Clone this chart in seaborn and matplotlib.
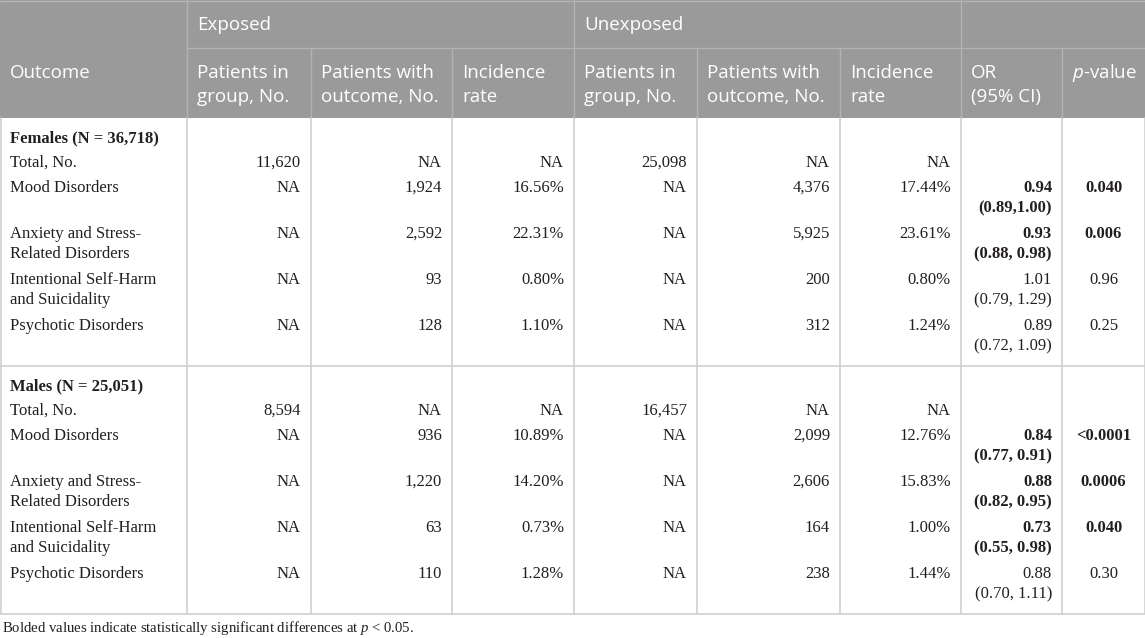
import numpy as np
import pandas as pd
import seaborn as sns
import matplotlib.pyplot as plt
from matplotlib.patches import Rectangle

# table data
groups = ['Females (N = 36,718)', 'Males (N = 25,051)']
outcomes = ['Total, No.', 'Mood Disorders', 'Anxiety and Stress-\nRelated Disorders',
            'Intentional Self-Harm\nand Suicidality', 'Psychotic Disorders']

exp_group = [['11,620', 'NA', 'NA', 'NA', 'NA'], ['8,594', 'NA', 'NA', 'NA', 'NA']]
exp_outcome = [['NA', '1,924', '2,592', '93', '128'], ['NA', '936', '1,220', '63', '110']]
exp_rate = [['NA', '16.56%', '22.31%', '0.80%', '1.10%'], ['NA', '10.89%', '14.20%', '0.73%', '1.28%']]
unexp_group = [['25,098', 'NA', 'NA', 'NA', 'NA'], ['16,457', 'NA', 'NA', 'NA', 'NA']]
unexp_outcome = [['NA', '4,376', '5,925', '200', '312'], ['NA', '2,099', '2,606', '164', '238']]
unexp_rate = [['NA', '17.44%', '23.61%', '0.80%', '1.24%'], ['NA', '12.76%', '15.83%', '1.00%', '1.44%']]
odds_ratio = [['', '0.94', '0.93', '1.01', '0.89'], ['', '0.84', '0.88', '0.73', '0.88']]
conf_int = [['', '(0.89,1.00)', '(0.88, 0.98)', '(0.79, 1.29)', '(0.72, 1.09)'],
            ['', '(0.77, 0.91)', '(0.82, 0.95)', '(0.55, 0.98)', '(0.70, 1.11)']]
p_values = [['', '0.040', '0.006', '0.96', '0.25'], ['', '<0.0001', '0.0006', '0.040', '0.30']]
significant = [[False, True, True, False, False], [False, True, True, True, False]]

top_headers = ['Exposed', 'Unexposed']
sub_headers = ['Patients in\ngroup, No.', 'Patients with\noutcome, No.', 'Incidence\nrate'] * 2 \
    + ['OR\n(95% CI)', r'$\mathsf{p}$-value']
footnote = r'Bolded values indicate statistically significant differences at $\mathit{p}$ < 0.05.'

sns.set_style('white')
plt.rcParams['mathtext.fontset'] = 'custom'
plt.rcParams['mathtext.sf'] = 'Open Sans:italic'
plt.rcParams['mathtext.it'] = 'Liberation Serif:italic'
plt.rcParams['mathtext.rm'] = 'Liberation Serif'

edges = [0, 187, 311, 452, 574, 697, 840, 961, 1062, 1145]
head_bg = '#9a9a9a'
head_line = '#b3b3b3'
body_line = '#d0d0d0'
txt = '#231f20'
serif = 'Liberation Serif'
sans = 'Open Sans'
fs = 12
hfs = 13.5

fig = plt.figure(figsize=(11.45, 6.38), dpi=100)
ax = fig.add_axes([0, 0, 1, 1])
ax.set_xlim(0, 1145)
ax.set_ylim(638, 0)
ax.axis('off')


def cell(x, y, s, **kw):
    # one text per line, 20.5 px apart
    for k, line in enumerate(s.split('\n')):
        ax.text(x, y + k * 20.5, line, fontsize=fs, family=serif, color=txt, va='center', **kw)


# header
ax.add_patch(Rectangle((0, 0), 1145, 118, color=head_bg, lw=0))
ax.plot([0, 1145], [0.5, 0.5], color=head_line, lw=1)
ax.plot([187, 1145], [48, 48], color=head_line, lw=1)
for x in edges[1:-1]:
    y0 = 0 if x in (187, 574, 961) else 48
    ax.plot([x, x], [y0, 118], color=head_line, lw=1)
ax.text(10, 73, 'Outcome', color='white', fontsize=hfs, family=sans, va='center')
ax.text(197, 25, top_headers[0], color='white', fontsize=hfs, family=sans, va='center')
ax.text(584, 25, top_headers[1], color='white', fontsize=hfs, family=sans, va='center')
for i, h in enumerate(sub_headers):
    for k, line in enumerate(h.split('\n')):
        ax.text(edges[i + 1] + 10, 73 + k * 24, line, color='white', fontsize=hfs,
                family=sans, va='center')

# body
cols = [exp_group, exp_outcome, exp_rate, unexp_group, unexp_outcome, unexp_rate]
y = 118
for g, name in enumerate(groups):
    yy = y + 20
    cell(10, yy, name, weight='bold')
    yy += 24.75
    for r, outc in enumerate(outcomes):
        cell(10, yy, outc)
        for c, col in enumerate(cols):
            cell(edges[c + 2] - 10, yy, col[g][r], ha='right')
        w = 'bold' if significant[g][r] else 'normal'
        if odds_ratio[g][r]:
            cell(edges[8] - 10, yy, odds_ratio[g][r] + '\n' + conf_int[g][r], ha='right', weight=w)
            cell((edges[8] + edges[9]) / 2, yy, p_values[g][r], ha='center', weight=w)
        last = yy
        yy += 46 if r > 0 else 24.75
    y_end = last + 40.5
    ax.plot([0, 1145], [y_end, y_end], color=body_line, lw=1.2)
    for x in edges:
        xx = min(max(x, 0.5), 1144.5)
        ax.plot([xx, xx], [y, y_end], color=body_line, lw=1.2)
    y = y_end

ax.text(2, 628, footnote, fontsize=10.6, family=serif, color=txt, va='center')

fig.savefig('out.png', dpi=100)
